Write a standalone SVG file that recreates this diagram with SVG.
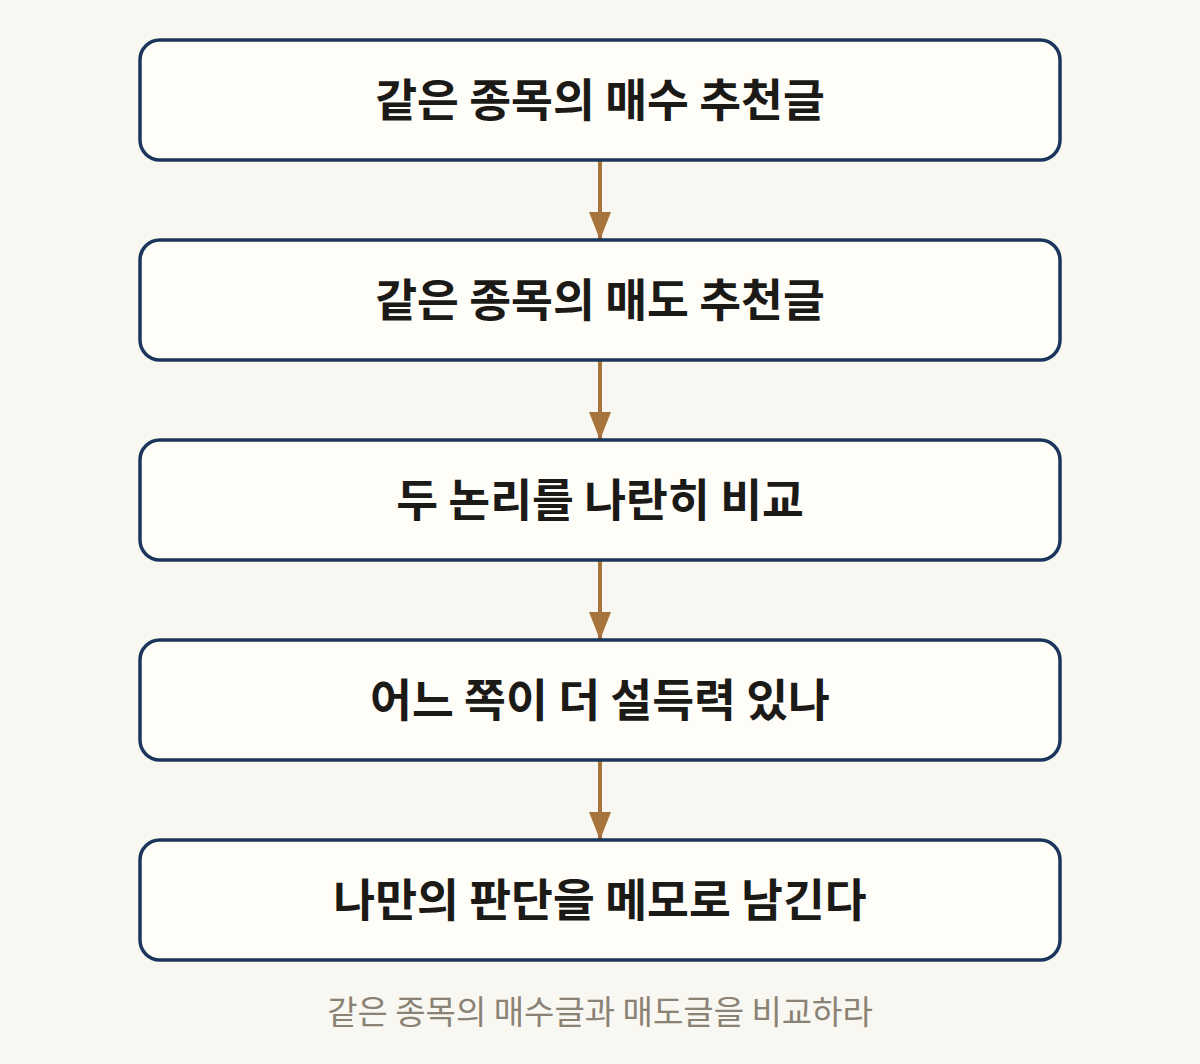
<svg xmlns="http://www.w3.org/2000/svg" width="1200" height="1064" viewBox="0 0 1200 1064">
<defs>
<style>
.box{fill:#fffdf8;stroke:#1b365d;stroke-width:3.5}
.lbl{font-family:"Noto Sans CJK KR","Noto Sans",sans-serif;font-weight:700;font-size:45.5px;fill:#1c1a17;text-anchor:middle}
.cap{font-family:"Noto Sans CJK KR","Noto Sans",sans-serif;font-weight:400;font-size:33px;fill:#8a8274;text-anchor:middle}
.conn{stroke:#a8743e;stroke-width:4;fill:none}
</style>
<marker id="ah" viewBox="0 0 28 22" refX="28" refY="11" markerWidth="28" markerHeight="22" markerUnits="userSpaceOnUse" orient="auto">
<path d="M0,0 L28,11 L0,22 Z" fill="#a8743e"/>
</marker>
</defs>
<rect width="1200" height="1064" fill="#f9f7f1"/>
<g id="connectors">
<line class="conn" x1="600" y1="161" x2="600" y2="240" marker-end="url(#ah)"/>
<line class="conn" x1="600" y1="361" x2="600" y2="440" marker-end="url(#ah)"/>
<line class="conn" x1="600" y1="561" x2="600" y2="640" marker-end="url(#ah)"/>
<line class="conn" x1="600" y1="761" x2="600" y2="840" marker-end="url(#ah)"/>
</g>
<g id="n1"><rect class="box" x="140" y="40" width="920" height="120" rx="20"/><text class="lbl" x="600" y="117">같은 종목의 매수 추천글</text></g>
<g id="n2"><rect class="box" x="140" y="240" width="920" height="120" rx="20"/><text class="lbl" x="600" y="317">같은 종목의 매도 추천글</text></g>
<g id="n3"><rect class="box" x="140" y="440" width="920" height="120" rx="20"/><text class="lbl" x="600" y="517">두 논리를 나란히 비교</text></g>
<g id="n4"><rect class="box" x="140" y="640" width="920" height="120" rx="20"/><text class="lbl" x="600" y="717">어느 쪽이 더 설득력 있나</text></g>
<g id="n5"><rect class="box" x="140" y="840" width="920" height="120" rx="20"/><text class="lbl" x="600" y="917">나만의 판단을 메모로 남긴다</text></g>
<text id="caption" class="cap" x="600" y="1024">같은 종목의 매수글과 매도글을 비교하라</text>
</svg>
